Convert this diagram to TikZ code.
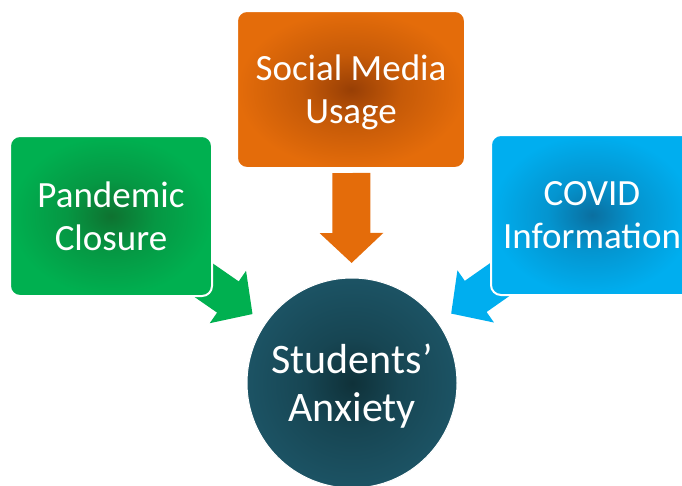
\documentclass[tikz,border=0pt]{standalone}
\usepackage{fontspec}
\setmainfont{Carlito}
\usetikzlibrary{arrows.meta,backgrounds}
\definecolor{leafgreen}{HTML}{00B050}
\definecolor{darkleaf}{HTML}{0E7230}
\definecolor{tangerine}{HTML}{E46C0A}
\definecolor{rust}{HTML}{983F05}
\definecolor{skyblue}{HTML}{00AEEF}
\definecolor{deepsky}{HTML}{0A6FA0}
\definecolor{petrol}{HTML}{1C5364}
\definecolor{deeppetrol}{HTML}{0F3139}
% dark centre fading out to the fill colour
\pgfdeclareradialshading[glowin,glowout]{glow}{\pgfpoint{0bp}{0bp}}{%
  color(0bp)=(glowin);
  color(11bp)=(glowout!60!glowin);
  color(25bp)=(glowout);
  color(50bp)=(glowout)}
\tikzset{
  glow/.style 2 args={/utils/exec={\colorlet{glowin}{#1}\colorlet{glowout}{#2}},
    shading=glow},
  factor/.style={rectangle,rounded corners=10pt,draw=white,line width=2pt,
    minimum width=202pt,minimum height=160pt,inner sep=0pt,outer sep=0pt,
    align=center,text=white,font=\fontsize{37}{43}\selectfont},
  outcome/.style={circle,draw=white,line width=1pt,minimum size=210pt,
    inner sep=0pt,outer sep=0pt,align=center,text=white,text depth=0pt,
    font=\fontsize{42}{48}\selectfont},
  blockarrow/.style={line width=38pt,-{Triangle[length=30pt,width=62pt]},draw=#1}
}

\begin{document}
\begin{tikzpicture}[x=1pt,y=-1pt]
  \useasboundingbox (0,0) rectangle (682,485);
  % influences
  \node[factor,glow={rust}{tangerine},minimum width=228pt,minimum height=157pt,
    text depth=0pt] (usage) at (351,89.5) {Social Media\\Usage};
  \node[factor,glow={darkleaf}{leafgreen}] (closure) at (111,216) {Pandemic\\Closure};
  \node[factor,glow={deepsky}{skyblue}] (info) at (592,215) {COVID\\Information};
  % outcome
  \node[outcome,glow={deeppetrol}{petrol}] (anxiety) at (352,383) {Students’\\Anxiety};
  \begin{scope}[on background layer]
    \draw[blockarrow=tangerine,shorten <=5pt,shorten >=15pt] (usage) -- (anxiety);
    \draw[blockarrow=leafgreen,shorten >=16pt] (closure.center) -- (anxiety);
    \draw[blockarrow=skyblue,shorten >=16pt] (info.center) -- (anxiety);
  \end{scope}
\end{tikzpicture}
\end{document}
